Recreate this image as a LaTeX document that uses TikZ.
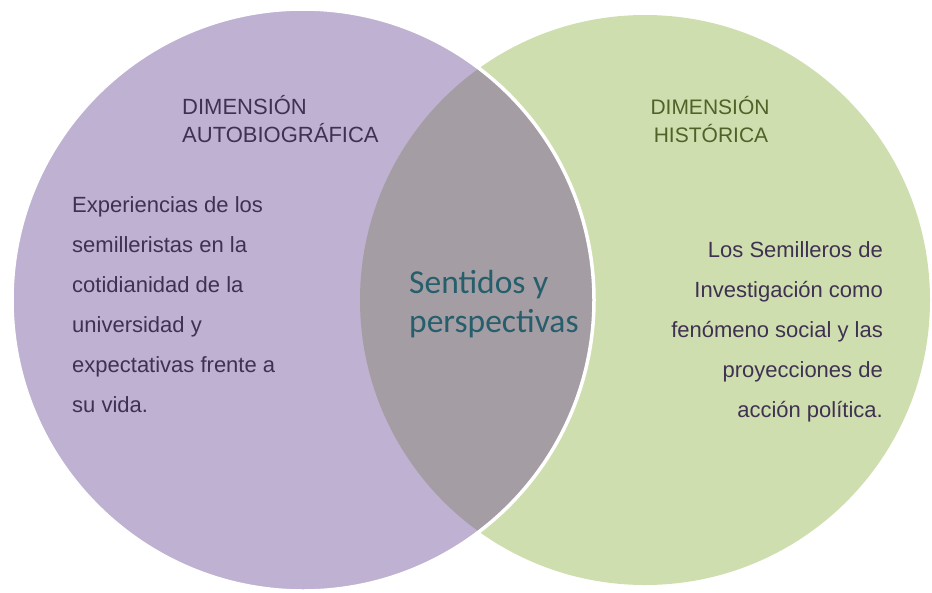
\documentclass[tikz,border=0pt]{standalone}
\usepackage{fontspec}
\setmainfont{Liberation Sans}
\newfontfamily\calibri{Carlito}
\definecolor{lilac}{RGB}{191,177,209}
\definecolor{lensgray}{RGB}{165,157,164}
\definecolor{sage}{RGB}{207,222,175}
\definecolor{plum}{RGB}{63,49,81}
\definecolor{olive}{RGB}{79,98,40}
\definecolor{teal2}{RGB}{38,94,108}
\tikzset{
  body/.style={inner sep=0pt, text=plum, font=\fontsize{22}{26}\selectfont},
  ttl/.style={inner sep=0pt, font=\fontsize{22}{26}\selectfont},
  mid/.style={inner sep=0pt, text=teal2, font=\calibri\fontsize{33.5}{38}\selectfont, anchor=base west},
}
\begin{document}
\begin{tikzpicture}[x=1pt,y=-1pt]
\useasboundingbox (0,0) rectangle (932,592);
% circles
\fill[sage] (645,300) circle [radius=285pt];
\fill[lilac] (303,300) circle [radius=291pt];
\begin{scope}
  \clip (303,300) circle [radius=291pt];
  \fill[lensgray] (645,300) circle [radius=285pt];
\end{scope}
\draw[white, line width=3.5pt] (303,300) circle [radius=291pt];
% titles
\node[ttl, text=plum, anchor=base west] (t1) at (182,114) {DIMENSIÓN};
\node[ttl, text=plum, anchor=base west] (t2) at (182,142) {AUTOBIOGRÁFICA};
\node[ttl, text=olive, anchor=base, font=\fontsize{21}{25}\selectfont] (t3) at (710,114) {DIMENSIÓN};
\node[ttl, text=olive, anchor=base, font=\fontsize{21}{25}\selectfont] (t4) at (711,142) {HISTÓRICA};
% left text
\node[body, anchor=base west] (l1) at (72,212) {Experiencias de los};
\node[body, anchor=base west] (l2) at (72,252) {semilleristas en la};
\node[body, anchor=base west] (l3) at (72,292) {cotidianidad de la};
\node[body, anchor=base west] (l4) at (72,332) {universidad y};
\node[body, anchor=base west] (l5) at (72,372) {expectativas frente a};
\node[body, anchor=base west] (l6) at (72,412) {su vida.};
% right text
\node[body, anchor=base east] (r1) at (883,257) {Los Semilleros de};
\node[body, anchor=base east] (r2) at (883,297) {Investigación como};
\node[body, anchor=base east] (r3) at (883,337) {fenómeno social y las};
\node[body, anchor=base east] (r4) at (883,377) {proyecciones de};
\node[body, anchor=base east] (r5) at (883,417) {acción política.};
% centre
\node[mid] (c1) at (409,293) {Sentidos y};
\node[mid] (c2) at (409,332) {perspectivas};
\end{tikzpicture}
\end{document}
